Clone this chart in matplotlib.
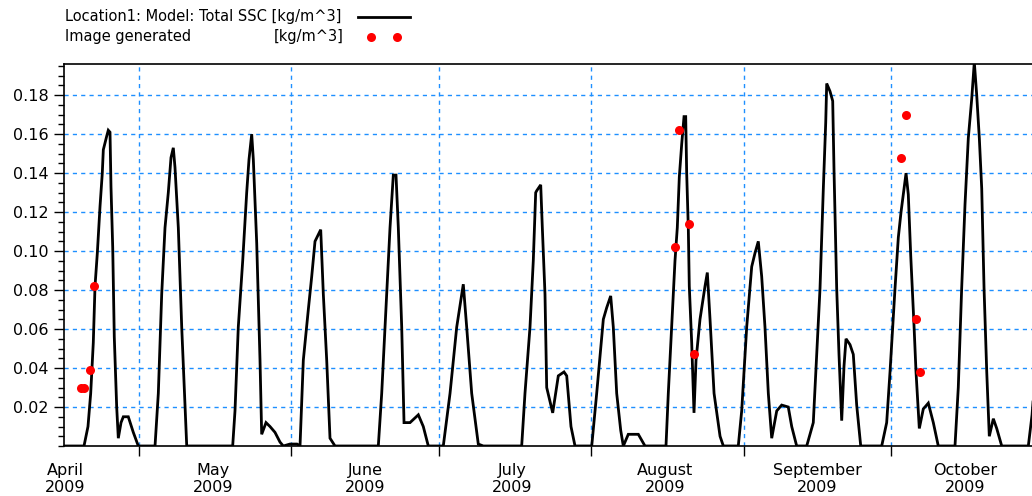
import numpy as np
import matplotlib
matplotlib.use("Agg")
import matplotlib.pyplot as plt
import matplotlib.dates as mdates
from matplotlib.ticker import MultipleLocator, NullFormatter, FixedFormatter
from datetime import datetime

# ---- data (days since 2009-04-01 00:00, value in kg/m^3) ----
model_days = [
    14.74, 18.81, 19.62, 20.17, 20.70, 21.05, 21.52, 22.07, 22.53, 22.74, 23.43, 23.75,
    24.10, 24.30, 24.65, 24.97, 25.46, 25.79, 26.34, 26.81, 27.82, 28.84, 29.86, 32.91,
    33.26, 33.93, 34.62, 35.29, 35.96, 36.51, 36.98, 37.32, 38.00, 38.69, 39.56, 39.71,
    49.06, 49.53, 50.20, 51.10, 51.91, 52.38, 52.93, 53.26, 53.95, 54.62, 54.96, 55.84,
    56.65, 57.67, 58.69, 59.36, 60.72, 62.15, 62.76, 63.43, 64.45, 65.14, 65.81, 66.97,
    67.50, 68.19, 68.86, 69.88, 78.69, 79.38, 80.40, 81.07, 81.74, 82.29, 82.76, 83.45,
    83.92, 85.14, 86.83, 87.84, 88.86, 91.91, 93.28, 94.64, 95.98, 96.67, 97.69, 99.03,
    100.05, 107.86, 108.53, 109.55, 110.22, 110.71, 110.92, 111.73, 112.06, 112.60,
    112.95, 114.17, 115.31, 116.47, 117.02, 117.89, 118.71, 122.11, 123.12, 124.47,
    125.16, 125.97, 126.50, 127.19, 128.01, 128.54, 129.55, 131.59, 132.95, 137.22,
    137.69, 138.38, 139.05, 139.52, 139.93, 140.42, 140.89, 141.23, 141.43, 141.76,
    141.96, 142.45, 142.92, 143.33, 144.14, 145.16, 145.63, 146.18, 147.00, 148.22,
    148.89, 151.93, 152.62, 153.64, 154.66, 155.33, 156.00, 156.69, 157.36, 158.04,
    158.73, 159.75, 160.76, 162.10, 162.80, 163.81, 165.85, 167.19, 167.88, 168.56,
    169.23, 169.72, 169.92, 170.59, 171.14, 171.41, 171.95, 172.42, 172.97, 173.44,
    173.85, 174.66, 175.33, 176.02, 176.84, 181.11, 182.12, 182.80, 183.82, 184.49,
    185.04, 185.65, 186.06, 186.52, 187.01, 187.68, 188.09, 188.76, 189.57, 190.59,
    191.61, 192.62, 196.02, 196.69, 197.38, 198.06, 198.73, 199.42, 199.95, 200.44,
    200.97, 201.46, 201.93, 202.48, 203.00, 203.82, 204.51, 205.53, 210.94, 211.70,
    212.40,
]
model_ssc = [
    0.000, 0.000, 0.010, 0.027, 0.053, 0.082, 0.099, 0.123, 0.140, 0.152, 0.159, 0.162,
    0.161, 0.133, 0.102, 0.056, 0.020, 0.004, 0.012, 0.015, 0.015, 0.007, 0.000, 0.000,
    0.000, 0.027, 0.078, 0.112, 0.130, 0.148, 0.153, 0.143, 0.112, 0.061, 0.010, 0.000,
    0.000, 0.018, 0.061, 0.095, 0.130, 0.147, 0.160, 0.147, 0.104, 0.044, 0.006, 0.012,
    0.010, 0.007, 0.002, 0.000, 0.001, 0.001, 0.000, 0.044, 0.070, 0.087, 0.105, 0.111,
    0.078, 0.044, 0.004, 0.000, 0.000, 0.027, 0.078, 0.112, 0.139, 0.139, 0.112, 0.061,
    0.012, 0.012, 0.016, 0.010, 0.000, 0.000, 0.027, 0.061, 0.083, 0.061, 0.027, 0.001,
    0.000, 0.000, 0.027, 0.061, 0.095, 0.130, 0.131, 0.134, 0.112, 0.078,
    0.030, 0.017, 0.036, 0.038, 0.036, 0.010, 0.000, 0.000, 0.027, 0.065,
    0.071, 0.077, 0.061, 0.027, 0.008, 0.000, 0.006, 0.006, 0.000, 0.000,
    0.027, 0.061, 0.095, 0.112, 0.138, 0.155, 0.169, 0.169, 0.140, 0.112,
    0.082, 0.053, 0.017, 0.044, 0.065, 0.082, 0.089, 0.065, 0.027, 0.005,
    0.000, 0.000, 0.018, 0.061, 0.092, 0.099, 0.105, 0.087, 0.061, 0.027,
    0.004, 0.018, 0.021, 0.020, 0.010, 0.000, 0.000, 0.012, 0.047, 0.081,
    0.132, 0.166, 0.186, 0.182, 0.177, 0.141, 0.081, 0.047, 0.013, 0.041,
    0.055, 0.052, 0.047, 0.021, 0.000, 0.000, 0.012, 0.038, 0.081, 0.107,
    0.120, 0.132, 0.140, 0.129, 0.098, 0.062, 0.038, 0.009, 0.019, 0.022,
    0.012, 0.000, 0.000, 0.030, 0.081, 0.124, 0.158, 0.178, 0.197, 0.180,
    0.158, 0.132, 0.081, 0.038, 0.005, 0.014, 0.009, 0.000, 0.000, 0.016,
    0.040,
]
image_days = [18.10, 18.91, 20.03, 20.84, 139.05, 139.87, 141.90, 142.98,
              184.97, 186.06, 188.09, 188.90]
image_ssc = [0.030, 0.030, 0.039, 0.082, 0.102, 0.162, 0.114, 0.047,
             0.148, 0.170, 0.065, 0.038]

month_names = ["April", "May", "June", "July", "August", "September", "October"]
year_label = "2009"
legend_model = "Location1: Model: Total SSC [kg/m^3]"
legend_image = "Image generated"
legend_unit = "[kg/m^3]"

# ---- figure ----
W, H = 1032, 496
fig = plt.figure(figsize=(W / 100, H / 100), dpi=100)
ax = fig.add_axes([64 / W, 50 / H, (1040 - 64) / W, 382 / H])

base = mdates.date2num(datetime(2009, 4, 1))
xm = base + np.array(model_days)
xi = base + np.array(image_days)

grid_col = "#1E8FFF"
ax.plot(xm, model_ssc, color="black", lw=2.0, zorder=3, solid_joinstyle="miter")
ax.plot(xi, image_ssc, "o", color="#FF0000", ms=6.5, mec="none", zorder=4)

x0 = base + 14.74
x1 = base + 14.74 + (1040 - 64) / 4.915
ax.set_xlim(x0, x1)
ax.set_ylim(0, 0.196)

# x ticks: month boundaries (major), labels at mid-month (minor)
ax.xaxis.set_major_locator(mdates.MonthLocator())
ax.xaxis.set_major_formatter(NullFormatter())
ax.xaxis.set_minor_locator(mdates.MonthLocator(bymonthday=16))
ax.xaxis.set_minor_formatter(FixedFormatter([f"{m}\n{year_label}" for m in month_names]))
ax.tick_params(axis="x", which="major", direction="out", length=7, width=1, color="black")
ax.tick_params(axis="x", which="minor", length=0, pad=12, labelsize=11.5)

ax.yaxis.set_major_locator(MultipleLocator(0.02))
ax.yaxis.set_minor_locator(MultipleLocator(0.005))
ax.set_yticks(np.arange(0.02, 0.19, 0.02))
ax.set_yticklabels([f"{v:.2f}" for v in np.arange(0.02, 0.19, 0.02)])
ax.tick_params(axis="y", which="major", direction="out", length=7, width=1, labelsize=11.5, pad=4)
ax.tick_params(axis="y", which="minor", direction="out", length=4, width=1)

ax.grid(True, which="major", axis="both", color=grid_col, lw=1.0,
        linestyle=(0, (3, 3)), zorder=1)
ax.set_axisbelow(True)

for s in ["left", "top", "bottom"]:
    ax.spines[s].set_color("black")
    ax.spines[s].set_linewidth(1.2)
ax.spines["right"].set_visible(False)

# ---- legend (drawn as text) ----
fs_leg = 10.5
fig.text(65 / W, 1 - 17 / H, legend_model, fontsize=fs_leg, va="center", ha="left")
fig.text(65 / W, 1 - 37 / H, legend_image, fontsize=fs_leg, va="center", ha="left")
fig.text(344 / W, 1 - 37 / H, legend_unit, fontsize=fs_leg, va="center", ha="right")
fig.add_artist(matplotlib.lines.Line2D([358 / W, 410 / W], [1 - 17 / H, 1 - 17 / H],
                                       color="black", lw=2.0, transform=fig.transFigure))
fig.add_artist(matplotlib.lines.Line2D([371 / W, 397 / W], [1 - 37 / H, 1 - 37 / H],
                                       color="#FF0000", lw=0, marker="o", ms=6.5, mec="none",
                                       transform=fig.transFigure))

fig.savefig("out.png", dpi=100)
